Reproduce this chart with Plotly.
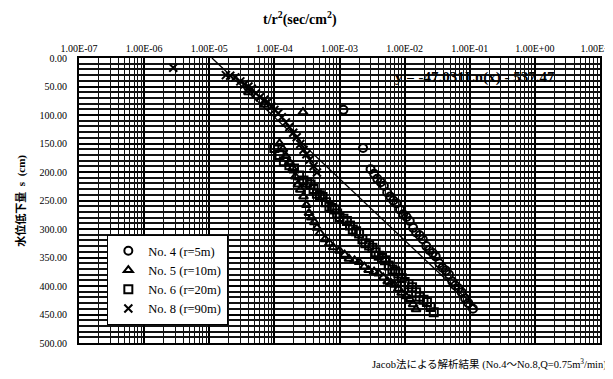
import plotly.graph_objects as go

# ---- data ----
no4_x = [1.15e-3, 2.3e-3, 3.0e-3, 3.4e-3, 3.8e-3, 4.3e-3, 4.8e-3, 5.4e-3, 6.0e-3, 6.7e-3, 7.5e-3,
         8.5e-3, 9.5e-3, 1.07e-2, 1.2e-2, 1.35e-2, 1.5e-2, 1.7e-2, 1.9e-2, 2.15e-2, 2.4e-2, 2.7e-2,
         3.0e-2, 3.4e-2, 3.8e-2, 4.3e-2, 4.8e-2, 5.4e-2, 6.0e-2, 6.7e-2, 7.5e-2, 8.5e-2, 9.5e-2, 1.12e-1]
no4_s = [91, 158, 195, 203, 212, 218, 224, 236, 243, 250, 255, 266, 274, 279, 286, 298, 306, 311,
         318, 330, 337, 342, 348, 360, 368, 373, 380, 392, 399, 404, 411, 422, 430, 440]

no5_x = [4.0e-5, 7.0e-5, 2.75e-4, 1.2e-4, 1.35e-4, 1.5e-4, 1.7e-4, 1.9e-4, 2.1e-4, 2.3e-4, 2.5e-4,
         2.8e-4, 3.1e-4, 3.4e-4, 3.7e-4, 4.1e-4, 4.5e-4, 5.0e-4, 6.0e-4, 7.0e-4, 8.0e-4, 1.0e-3,
         1.2e-3, 1.4e-3, 1.7e-3, 2.0e-3, 2.4e-3, 2.8e-3, 3.4e-3, 4.0e-3, 4.7e-3, 5.5e-3, 6.2e-3,
         7.0e-3, 8.0e-3, 9.0e-3, 1.05e-2, 1.2e-2, 1.35e-2, 1.5e-2]
no5_s = [60, 82, 95, 150, 160, 172, 183, 193, 208, 222, 231, 243, 258, 272, 280, 288, 298, 307,
         318, 325, 332, 338, 345, 352, 355, 358, 366, 372, 375, 378, 385, 392, 395, 398, 405, 412,
         418, 423, 432, 441]

no6_x = [1.0e-4, 1.2e-4, 1.4e-4, 1.7e-4, 2.0e-4, 2.4e-4, 2.8e-4, 3.2e-4, 3.6e-4, 4.0e-4, 4.5e-4,
         5.0e-4, 5.5e-4, 6.2e-4, 7.0e-4, 7.7e-4, 8.5e-4, 9.2e-4, 1.0e-3, 1.15e-3, 1.3e-3, 1.45e-3,
         1.6e-3, 1.8e-3, 2.0e-3, 2.25e-3, 2.5e-3, 2.85e-3, 3.2e-3, 3.6e-3, 4.0e-3, 4.5e-3, 5.0e-3,
         5.7e-3, 6.5e-3, 7.2e-3, 8.0e-3, 9.0e-3, 1.0e-2, 1.15e-2, 1.3e-2, 1.5e-2, 1.7e-2, 1.95e-2,
         2.2e-2, 2.5e-2, 2.8e-2]
no6_s = [158, 170, 181, 188, 194, 206, 215, 219, 222, 230, 238, 241, 244, 253, 261, 263, 266, 273,
         279, 282, 286, 294, 301, 304, 308, 318, 325, 329, 333, 341, 347, 351, 355, 364, 371, 374,
         378, 386, 393, 397, 402, 411, 419, 424, 428, 437, 446]

no8_x = [2.8e-6, 1.8e-5, 2.1e-5, 2.5e-5, 3.0e-5, 3.5e-5, 4.0e-5, 4.5e-5, 5.2e-5, 6.0e-5, 7.0e-5,
         8.0e-5, 9.0e-5, 1.0e-4, 1.15e-4, 1.3e-4, 1.5e-4, 1.7e-4, 1.95e-4, 2.2e-4, 2.5e-4, 2.8e-4,
         3.1e-4, 3.5e-4, 4.0e-4, 4.5e-4]
no8_s = [17, 30, 31, 34, 41, 46, 50, 54, 62, 69, 73, 77, 85, 91, 97, 104, 113, 121, 131, 139, 151,
         161, 169, 178, 190, 201]

fit_x = [1.1e-5, 1.35e-1]
fit_s = [0, 442]

x_tickvals = [1e-7, 1e-6, 1e-5, 1e-4, 1e-3, 1e-2, 1e-1, 1e0, 1e1]
x_ticktext = ["1.00E-07", "1.00E-06", "1.00E-05", "1.00E-04", "1.00E-03",
              "1.00E-02", "1.00E-01", "1.00E+00", "1.00E+01"]
y_tickvals = [0, 50, 100, 150, 200, 250, 300, 350, 400, 450, 500]
y_ticktext = ["0.00", "50.00", "100.00", "150.00", "200.00", "250.00",
              "300.00", "350.00", "400.00", "450.00", "500.00"]

names = ["No. 4 (r=5m)", "No. 5 (r=10m)", "No. 6 (r=20m)", "No. 8 (r=90m)"]

SERIF = "Liberation Serif, Noto Sans CJK JP, serif"

fig = go.Figure()

fig.add_trace(go.Scatter(x=fit_x, y=fit_s, mode="lines",
                         line=dict(color="black", width=1.3), showlegend=False))

series = [
    (no4_x, no4_s, "circle-open", names[0]),
    (no5_x, no5_s, "triangle-up-open", names[1]),
    (no6_x, no6_s, "square-open", names[2]),
    (no8_x, no8_s, "x-thin-open", names[3]),
]
for xs, ss, sym, nm in series:
    fig.add_trace(go.Scatter(
        x=xs, y=ss, mode="markers", name=nm,
        marker=dict(symbol=sym, size=8, color="black",
                    line=dict(color="black", width=2)),
    ))

minor_vals = [m * 10 ** e for e in range(-7, 1) for m in range(2, 10)]

# the page body has an 8px default margin, so the figure is 8px smaller
fig.update_layout(
    width=605, height=371,
    margin=dict(l=71, r=13, t=50, b=36, autoexpand=False),
    paper_bgcolor="white", plot_bgcolor="white",
    font=dict(family=SERIF, size=10, color="black"),
    showlegend=True,
    legend=dict(
        x=0.054, y=0.379, xanchor="left", yanchor="top",
        bgcolor="white", bordercolor="black", borderwidth=1.2,
        font=dict(family=SERIF, size=12.5, color="black"),
        tracegroupgap=0, itemwidth=30,
    ),
    xaxis=dict(
        type="log", side="top", range=[-7, 1], automargin=False,
        tickmode="array", tickvals=x_tickvals, ticktext=x_ticktext,
        ticklabeloverflow="allow",
        showgrid=True, gridcolor="#000", gridwidth=2,
        minor=dict(tickmode="array", tickvals=minor_vals, showgrid=True,
                   gridcolor="#111", gridwidth=1.3),
        showline=True, linecolor="black", linewidth=2, mirror=True,
        ticks="", tickfont=dict(family=SERIF, size=10, color="black"),
        zeroline=False,
    ),
    yaxis=dict(
        range=[500, 0], automargin=False,
        tickmode="array", tickvals=y_tickvals, ticktext=y_ticktext,
        showgrid=True, gridcolor="#000", gridwidth=2,
        minor=dict(dtick=10, showgrid=True, gridcolor="#111", gridwidth=1.6),
        showline=True, linecolor="black", linewidth=2, mirror=True,
        ticks="", ticklabelstandoff=8,
        tickfont=dict(family=SERIF, size=10, color="black"),
        zeroline=False,
    ),
    annotations=[
        dict(text="<b>t/r<sup>2</sup>(sec/cm<sup>2</sup>)</b>", xref="paper", yref="paper",
             x=0.424, y=1.14, xanchor="center", yanchor="middle", showarrow=False,
             font=dict(family=SERIF, size=14, color="black")),
        dict(text="<b>水位低下量  s  (cm)</b>", xref="paper", yref="paper",
             x=-0.113, y=0.5, xanchor="center", yanchor="middle", textangle=-90,
             showarrow=False, font=dict(family=SERIF, size=11, color="black")),
        dict(text="Jacob法による解析結果 (No.4～No.8,Q=0.75m<sup>3</sup>/min)",
             xref="paper", yref="paper", x=1.018, y=-0.075, xanchor="right",
             yanchor="middle", showarrow=False,
             font=dict(family=SERIF, size=10.5, color="black")),
        dict(text="<b>y = -47.031Ln(x) - 537.47</b>", xref="paper", yref="paper",
             x=0.76, y=0.93, xanchor="center", yanchor="middle", showarrow=False,
             font=dict(family=SERIF, size=15, color="black")),
    ],
)

fig.write_html("out.html")
